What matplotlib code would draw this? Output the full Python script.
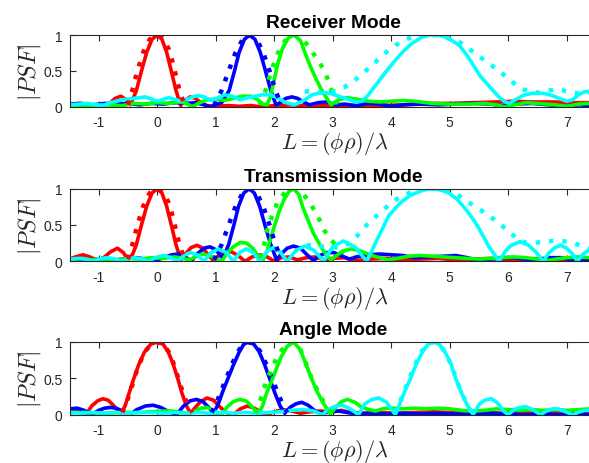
import matplotlib
matplotlib.use("Agg")
import matplotlib.pyplot as plt

plt.rcParams['mathtext.fontset'] = 'cm'
plt.rcParams['axes.unicode_minus'] = False
plt.rcParams['font.family'] = ['Liberation Sans', 'DejaVu Sans']

titles = ["Receiver Mode", "Transmission Mode", "Angle Mode"]
x_ticks = [-1, 0, 1, 2, 3, 4, 5, 6, 7]
y_ticks = [0, 0.5, 1]
y_tick_labels = ["0", "0.5", "1"]

# ---------------- Receiver Mode ----------------
recv_red_x = [-1.5, -1.35, -1.2, -1.05, -0.9, -0.8, -0.72, -0.62, -0.53, -0.46,
              -0.36, -0.27, -0.18, -0.09, 0, 0.08, 0.16, 0.24, 0.32, 0.4,
              0.47, 0.56, 0.65, 0.75, 0.85, 1.0, 1.2, 1.4, 1.6, 1.8, 2.0, 2.3, 2.6, 2.9,
              3.2, 3.5, 3.8, 4.2, 4.6, 5.0, 5.4, 5.8, 6.1, 6.4, 6.8, 7.1, 7.4]
recv_red_y = [0.03, 0.05, 0.03, 0.02, 0.03, 0.06, 0.12, 0.15, 0.1, 0.03,
              0.22, 0.5, 0.76, 0.94, 1.0, 0.94, 0.76, 0.5, 0.23, 0.02,
              0.09, 0.14, 0.12, 0.06, 0.02, 0.01, 0.02, 0.01, 0.02, 0.0, 0.02, 0.03, 0.01, 0.02,
              0.0, 0.02, 0.02, 0.03, 0.05, 0.05, 0.06, 0.07, 0.08, 0.07, 0.07, 0.06, 0.06]
recv_red_dot_x = [-0.5, -0.43, -0.34, -0.24, -0.13, 0, 0.12, 0.22, 0.3, 0.38, 0.46]
recv_red_dot_y = [0.03, 0.22, 0.5, 0.76, 0.94, 1.0, 0.94, 0.76, 0.5, 0.23, 0.04]

recv_blue_x = [-1.5, -1.3, -1.1, -0.9, -0.7, -0.5, -0.3, -0.1, 0.1, 0.3, 0.5, 0.65, 0.8, 0.92, 1.02,
               1.1, 1.23, 1.32, 1.4, 1.49, 1.58, 1.67, 1.76, 1.85, 1.94, 2.03,
               2.1, 2.2, 2.3, 2.4, 2.5, 2.6, 2.75, 2.9, 3.05, 3.2, 3.4, 3.6, 3.8, 4.0, 4.2,
               4.5, 4.8, 5.1, 5.4, 5.7, 5.9, 6.1, 6.4, 6.7, 7.0, 7.2, 7.4]
recv_blue_y = [0.04, 0.05, 0.03, 0.05, 0.04, 0.05, 0.03, 0.05, 0.04, 0.06, 0.05, 0.06, 0.03, 0.0, 0.04,
               0.06, 0.23, 0.5, 0.76, 0.94, 1.0, 0.94, 0.76, 0.5, 0.23, 0.03,
               0.06, 0.12, 0.14, 0.12, 0.07, 0.03, 0.06, 0.07, 0.03, 0.04, 0.02, 0.05, 0.04, 0.01, 0.03,
               0.04, 0.03, 0.04, 0.05, 0.04, 0.02, 0.04, 0.05, 0.03, 0.01, 0.03, 0.02]
recv_blue_dot_x = [0.97, 1.1, 1.22, 1.34, 1.46, 1.58, 1.7, 1.81, 1.92, 2.02, 2.12]
recv_blue_dot_y = [0.02, 0.23, 0.5, 0.76, 0.94, 1.0, 0.94, 0.76, 0.5, 0.23, 0.03]

recv_green_x = [-1.5, -1.2, -0.9, -0.6, -0.4, -0.2, 0.0, 0.2, 0.4, 0.52, 0.6, 0.7, 0.85, 1.0, 1.15,
                1.3, 1.45, 1.6, 1.72, 1.8, 1.88, 1.94, 2.0, 2.06, 2.14, 2.24, 2.34, 2.45, 2.55,
                2.64, 2.72, 2.8, 2.89, 2.97, 3.1, 3.25, 3.4, 3.6, 3.8, 4.0, 4.2, 4.4, 4.7, 5.0,
                5.3, 5.6, 5.8, 5.95, 6.1, 6.3, 6.5, 6.8, 7.0, 7.2, 7.4]
recv_green_y = [0.02, 0.02, 0.03, 0.02, 0.05, 0.04, 0.06, 0.05, 0.07, 0.04, 0.0, 0.05, 0.1, 0.11, 0.09,
                0.12, 0.15, 0.15, 0.1, 0.04, 0.03, 0.16, 0.38, 0.6, 0.81, 0.96, 1.0, 0.92, 0.7,
                0.52, 0.38, 0.25, 0.13, 0.03, 0.1, 0.13, 0.11, 0.08, 0.07, 0.08, 0.09, 0.08, 0.05, 0.04,
                0.04, 0.05, 0.03, 0.0, 0.03, 0.06, 0.05, 0.03, 0.01, 0.04, 0.05]
recv_green_dot_x = [1.75, 1.84, 1.92, 2.0, 2.1, 2.22, 2.35, 2.5, 2.62, 2.72, 2.8, 2.88, 2.95, 3.02, 3.08]
recv_green_dot_y = [0.03, 0.2, 0.42, 0.62, 0.82, 0.96, 1.0, 0.93, 0.8, 0.68, 0.58, 0.46, 0.3, 0.14, 0.04]

recv_cyan_x = [-1.5, -1.35, -1.2, -1.05, -0.93, -0.8, -0.6, -0.4, -0.2, 0.0, 0.2, 0.4, 0.55, 0.68,
               0.8, 0.92, 1.05, 1.15, 1.28, 1.42, 1.55, 1.68, 1.8, 1.92, 2.05, 2.2, 2.35, 2.5,
               2.65, 2.8, 2.95, 3.1, 3.25, 3.4, 3.5, 3.6, 3.75, 3.9, 4.04, 4.2, 4.35, 4.5, 4.65,
               4.78, 4.9, 5.05, 5.18, 5.3, 5.42, 5.52, 5.64, 5.75, 5.85, 5.95, 6.02, 6.12, 6.25,
               6.4, 6.6, 6.75, 6.9, 7.0, 7.1, 7.2, 7.3, 7.4]
recv_cyan_y = [0.03, 0.04, 0.05, 0.03, 0.02, 0.06, 0.1, 0.12, 0.14, 0.08, 0.13, 0.08, 0.12, 0.16,
               0.14, 0.09, 0.13, 0.17, 0.15, 0.1, 0.13, 0.15, 0.17, 0.17, 0.13, 0.06, 0.03, 0.09,
               0.17, 0.2, 0.19, 0.15, 0.11, 0.07, 0.08, 0.16, 0.32, 0.48, 0.62, 0.77, 0.88, 0.96, 1.0,
               1.0, 0.98, 0.92, 0.84, 0.71, 0.56, 0.43, 0.32, 0.22, 0.13, 0.07, 0.05, 0.1, 0.16,
               0.19, 0.19, 0.16, 0.11, 0.08, 0.1, 0.17, 0.21, 0.22]
recv_cyan_dot_x = [2.52, 2.7, 2.88, 3.05, 3.19, 3.32, 3.45, 3.56, 3.68, 3.8, 3.93, 4.15, 4.35, 4.55,
                   4.75, 4.95, 5.1, 5.25, 5.39, 5.5, 5.62, 5.84, 5.95, 6.04, 6.14, 6.24, 6.38, 6.52,
                   6.7, 6.86, 6.98, 7.09, 7.2, 7.32, 7.4]
recv_cyan_dot_y = [0.22, 0.2, 0.2, 0.22, 0.27, 0.34, 0.42, 0.5, 0.58, 0.68, 0.77, 0.9, 0.97, 1.0,
                   1.0, 0.96, 0.93, 0.86, 0.77, 0.7, 0.64, 0.5, 0.43, 0.37, 0.3, 0.25, 0.21, 0.2,
                   0.23, 0.25, 0.22, 0.2, 0.19, 0.19, 0.2]

# ---------------- Transmission Mode ----------------
trans_red_x = [-1.5, -1.4, -1.27, -1.15, -1.02, -0.9, -0.8, -0.68, -0.58, -0.5,
               -0.42, -0.36, -0.27, -0.18, -0.09, 0, 0.08, 0.16, 0.24, 0.32, 0.4,
               0.48, 0.58, 0.68, 0.78, 0.88, 0.96, 1.05, 1.15, 1.27, 1.38, 1.5, 1.62, 1.75, 1.88,
               2.0, 2.12, 2.25, 2.4, 2.55, 2.7, 2.85, 3.0, 3.2, 3.4, 3.6, 3.9, 4.2, 4.5, 4.8,
               5.1, 5.4, 5.7, 6.0, 6.3, 6.6, 6.9, 7.2, 7.4]
trans_red_y = [0.03, 0.06, 0.09, 0.06, 0.01, 0.06, 0.13, 0.18, 0.12, 0.02,
               0.1, 0.22, 0.5, 0.76, 0.94, 1.0, 0.94, 0.76, 0.5, 0.23, 0.02,
               0.1, 0.19, 0.22, 0.18, 0.08, 0.01, 0.08, 0.13, 0.13, 0.08, 0.0, 0.06, 0.09, 0.06,
               0.0, 0.05, 0.06, 0.02, 0.05, 0.06, 0.02, 0.04, 0.05, 0.01, 0.03, 0.04, 0.02, 0.03, 0.04,
               0.02, 0.03, 0.04, 0.02, 0.03, 0.04, 0.02, 0.03, 0.04]
trans_red_dot_x = [-0.5, -0.43, -0.34, -0.24, -0.13, 0, 0.12, 0.22, 0.3, 0.38, 0.46]
trans_red_dot_y = [0.03, 0.22, 0.5, 0.76, 0.94, 1.0, 0.94, 0.76, 0.5, 0.23, 0.04]

trans_blue_x = [-1.5, -1.3, -1.1, -0.9, -0.7, -0.5, -0.35, -0.2, -0.05, 0.1, 0.25, 0.37, 0.48, 0.58,
                0.68, 0.8, 0.9, 1.0, 1.08, 1.12, 1.22, 1.31, 1.39, 1.48, 1.57, 1.66, 1.75, 1.84,
                1.94, 2.04, 2.12, 2.22, 2.33, 2.45, 2.56, 2.67, 2.78, 2.9, 3.02, 3.14, 3.28, 3.4,
                3.6, 3.8, 4.0, 4.2, 4.4, 4.6, 4.9, 5.1, 5.3, 5.5, 5.7, 5.9, 6.1, 6.3, 6.5, 6.7,
                6.9, 7.1, 7.25, 7.4]
trans_blue_y = [0.02, 0.03, 0.02, 0.04, 0.02, 0.04, 0.05, 0.03, 0.0, 0.05, 0.09, 0.1, 0.06, 0.0,
                0.1, 0.18, 0.2, 0.16, 0.08, 0.04, 0.23, 0.5, 0.76, 0.94, 1.0, 0.94, 0.76, 0.5,
                0.23, 0.02, 0.1, 0.18, 0.21, 0.18, 0.09, 0.01, 0.08, 0.12, 0.12, 0.08, 0.03, 0.06,
                0.09, 0.1, 0.09, 0.08, 0.05, 0.06, 0.07, 0.08, 0.05, 0.01, 0.03, 0.05, 0.05, 0.03, 0.01, 0.05,
                0.05, 0.02, 0.0, 0.03]
trans_blue_dot_x = [0.97, 1.1, 1.22, 1.34, 1.46, 1.58, 1.7, 1.81, 1.92, 2.02, 2.12]
trans_blue_dot_y = [0.02, 0.23, 0.5, 0.76, 0.94, 1.0, 0.94, 0.76, 0.5, 0.23, 0.03]

trans_green_x = [-1.5, -1.3, -1.1, -0.9, -0.7, -0.5, -0.3, -0.1, 0.1, 0.3, 0.45, 0.55, 0.65, 0.77,
                 0.9, 1.0, 1.1, 1.2, 1.3, 1.42, 1.53, 1.63, 1.72, 1.8, 1.88, 1.95, 2.01, 2.08,
                 2.16, 2.25, 2.33, 2.42, 2.49, 2.57, 2.66, 2.75, 2.83, 2.9, 2.97, 3.05, 3.15,
                 3.3, 3.45, 3.6, 3.75, 3.95, 4.1, 4.3, 4.5, 4.7, 4.9, 5.1, 5.3, 5.5, 5.7, 5.9,
                 6.1, 6.3, 6.5, 6.62, 6.8, 7.0, 7.2, 7.4]
trans_green_y = [0.02, 0.04, 0.02, 0.03, 0.02, 0.04, 0.03, 0.05, 0.04, 0.06, 0.04, 0.02, 0.06, 0.1,
                 0.08, 0.03, 0.0, 0.12, 0.2, 0.26, 0.25, 0.18, 0.08, 0.0, 0.15, 0.35, 0.5, 0.68,
                 0.84, 0.96, 1.0, 0.92, 0.74, 0.58, 0.4, 0.27, 0.16, 0.08, 0.02, 0.07, 0.13,
                 0.17, 0.15, 0.1, 0.06, 0.02, 0.04, 0.07, 0.08, 0.07, 0.06, 0.05, 0.04, 0.03, 0.04, 0.05,
                 0.06, 0.05, 0.03, 0.0, 0.03, 0.05, 0.06, 0.05]
trans_green_dot_x = [1.75, 1.82, 1.87, 1.95, 2.05, 2.18, 2.33, 2.48, 2.6, 2.7, 2.78, 2.86, 2.96,
                     3.05, 3.15, 3.25, 3.35]
trans_green_dot_y = [0.04, 0.2, 0.4, 0.6, 0.8, 0.95, 1.0, 0.94, 0.82, 0.68, 0.56, 0.42, 0.31,
                     0.22, 0.14, 0.1, 0.08]

trans_cyan_x = [-1.5, -1.35, -1.22, -1.1, -0.98, -0.86, -0.74, -0.62, -0.5, -0.39, -0.27, -0.15,
                -0.02, 0.1, 0.22, 0.35, 0.46, 0.57, 0.69, 0.8, 0.92, 1.05, 1.18, 1.3, 1.41, 1.52,
                1.64, 1.75, 1.87, 1.98, 2.1, 2.22, 2.37, 2.52, 2.68, 2.84, 3.0, 3.18, 3.38, 3.58,
                3.66, 3.74, 3.85, 3.96, 4.08, 4.19, 4.33, 4.48, 4.6, 4.72, 4.85, 4.99, 5.13, 5.27,
                5.39, 5.5, 5.59, 5.67, 5.76, 5.84, 5.95, 6.05, 6.2, 6.35, 6.48, 6.6, 6.7, 6.8,
                6.9, 7.0, 7.1, 7.18, 7.28, 7.38, 7.4]
trans_cyan_y = [0.03, 0.04, 0.03, 0.0, 0.035, 0.05, 0.035, 0.0, 0.035, 0.05, 0.035, 0.0,
                0.055, 0.08, 0.055, 0.0, 0.085, 0.12, 0.085, 0.0, 0.12, 0.17, 0.12, 0.0, 0.12, 0.17,
                0.12, 0.0, 0.13, 0.19, 0.13, 0.0, 0.15, 0.21, 0.15, 0.0, 0.2, 0.28, 0.2, 0.0,
                0.13, 0.27, 0.45, 0.63, 0.74, 0.83, 0.91, 0.96, 0.99, 1.0, 0.98, 0.94, 0.85, 0.72,
                0.59, 0.45, 0.32, 0.2, 0.1, 0.0, 0.14, 0.22, 0.27, 0.22, 0.12, 0.0, 0.12, 0.19,
                0.22, 0.18, 0.1, 0.0, 0.1, 0.16, 0.17]
trans_cyan_dot_x = [2.55, 2.7, 2.85, 3.0, 3.12, 3.22, 3.32, 3.43, 3.58, 3.78, 3.95, 4.1, 4.24, 4.4,
                    4.55, 4.75, 4.9, 5.04, 5.22, 5.4, 5.52, 5.63, 5.75, 5.86, 6.0, 6.15, 6.28,
                    6.38, 6.5, 6.62, 6.75, 6.9, 7.02, 7.13, 7.25, 7.33, 7.4]
trans_cyan_dot_y = [0.22, 0.22, 0.2, 0.19, 0.19, 0.22, 0.27, 0.36, 0.5, 0.65, 0.77, 0.86, 0.92, 0.97,
                    1.0, 1.0, 0.99, 0.96, 0.87, 0.77, 0.71, 0.65, 0.58, 0.51, 0.42, 0.31, 0.26,
                    0.25, 0.26, 0.27, 0.28, 0.28, 0.27, 0.25, 0.21, 0.18, 0.17]

# ---------------- Angle Mode ----------------
angle_red_x = [-1.5, -1.42, -1.32, -1.22, -1.12, -1.02, -0.93, -0.84, -0.75, -0.66,
               -0.62, -0.55, -0.48, -0.4, -0.32, -0.22, -0.11, 0, 0.1, 0.19, 0.27, 0.35, 0.42,
               0.5, 0.57, 0.64, 0.74, 0.85, 0.96, 1.08, 1.2, 1.3, 1.42, 1.54, 1.66, 1.78, 1.88,
               2.0, 2.15, 2.3, 2.45, 2.6, 2.8, 3.0, 3.15, 3.3, 3.5, 3.8, 4.1, 4.4, 4.7, 5.0, 5.3,
               5.6, 5.9, 6.2, 6.5, 6.8, 7.1, 7.4]
angle_red_y = [0.06, 0.08, 0.05, 0.0, 0.12, 0.19, 0.22, 0.2, 0.13, 0.04,
               0.02, 0.12, 0.3, 0.5, 0.68, 0.86, 0.97, 1.0, 0.97, 0.86, 0.7, 0.5, 0.3,
               0.12, 0.02, 0.09, 0.18, 0.23, 0.2, 0.1, 0.02, 0.0, 0.08, 0.12, 0.09, 0.03, 0.0,
               0.04, 0.07, 0.05, 0.02, 0.04, 0.05, 0.04, 0.06, 0.03, 0.02, 0.03, 0.02, 0.03, 0.04, 0.03, 0.02,
               0.03, 0.02, 0.03, 0.02, 0.03, 0.02, 0.03]
angle_red_dot_x = [-0.6, -0.53, -0.46, -0.39, -0.31, -0.21, -0.1, 0, 0.1, 0.2, 0.28, 0.36, 0.44, 0.52, 0.6]
angle_red_dot_y = [0.03, 0.15, 0.32, 0.51, 0.69, 0.87, 0.97, 1.0, 0.97, 0.86, 0.7, 0.5, 0.3, 0.13, 0.03]

angle_blue_x = [-1.5, -1.37, -1.25, -1.12, -1.0, -0.9, -0.8, -0.7, -0.6, -0.47, -0.35, -0.2, -0.07,
                0.06, 0.2, 0.33, 0.45, 0.56, 0.67, 0.78, 0.88, 0.96, 1.04, 1.12, 1.21, 1.3, 1.4,
                1.48, 1.56, 1.65, 1.74, 1.83, 1.92, 2.01, 2.1, 2.18, 2.27, 2.37, 2.47, 2.58, 2.7,
                2.82, 2.95, 3.1, 3.25, 3.4, 3.6, 3.9, 4.2, 4.5, 4.8, 5.1, 5.4, 5.7, 6.0, 6.3, 6.6,
                6.9, 7.2, 7.4]
angle_blue_y = [0.08, 0.09, 0.06, 0.0, 0.06, 0.09, 0.1, 0.09, 0.05, 0.0, 0.07, 0.12, 0.13,
                0.1, 0.04, 0.0, 0.12, 0.19, 0.21, 0.18, 0.1, 0.02, 0.14, 0.32, 0.5, 0.68, 0.86,
                0.97, 1.0, 0.97, 0.87, 0.7, 0.5, 0.3, 0.12, 0.02, 0.1, 0.15, 0.17, 0.13, 0.05,
                0.02, 0.04, 0.05, 0.03, 0.01, 0.02, 0.01, 0.02, 0.01, 0.02, 0.01, 0.0, 0.02, 0.01, 0.0, 0.01,
                0.0, 0.01, 0.0]
angle_blue_dot_x = [0.93, 1.01, 1.1, 1.19, 1.28, 1.38, 1.47, 1.56, 1.66, 1.76, 1.86, 1.96, 2.05, 2.14, 2.22]
angle_blue_dot_y = [0.03, 0.16, 0.34, 0.52, 0.7, 0.87, 0.97, 1.0, 0.97, 0.87, 0.7, 0.5, 0.32, 0.15, 0.03]

angle_green_x = [-1.5, -1.2, -0.9, -0.6, -0.3, -0.1, 0.1, 0.25, 0.4, 0.55, 0.65, 0.75, 0.84, 0.94,
                 1.04, 1.1, 1.2, 1.3, 1.41, 1.52, 1.62, 1.7, 1.73, 1.8, 1.87, 1.95, 2.03, 2.12,
                 2.22, 2.33, 2.44, 2.54, 2.64, 2.73, 2.83, 2.9, 2.96, 3.05, 3.15, 3.25, 3.38, 3.5,
                 3.62, 3.73, 3.85, 4.0, 4.2, 4.4, 4.6, 4.8, 5.0, 5.2, 5.4, 5.6, 5.8, 6.0, 6.2, 6.4,
                 6.6, 6.8, 7.0, 7.2, 7.4]
angle_green_y = [0.03, 0.03, 0.02, 0.03, 0.03, 0.04, 0.05, 0.05, 0.03, 0.02, 0.05, 0.09, 0.1, 0.07,
                 0.02, 0.0, 0.11, 0.18, 0.21, 0.19, 0.11, 0.03, 0.02, 0.12, 0.3, 0.45, 0.62, 0.8,
                 0.94, 1.0, 0.9, 0.7, 0.49, 0.32, 0.17, 0.08, 0.01, 0.1, 0.18, 0.21, 0.17, 0.1,
                 0.07, 0.05, 0.08, 0.09, 0.08, 0.09, 0.08, 0.09, 0.08, 0.06, 0.05, 0.06, 0.08, 0.07, 0.06, 0.07,
                 0.06, 0.07, 0.06, 0.07, 0.08]
angle_green_dot_x = [1.68, 1.74, 1.8, 1.87, 1.95, 2.04, 2.14, 2.24, 2.33, 2.44, 2.54, 2.64, 2.74, 2.84, 2.92, 2.98]
angle_green_dot_y = [0.02, 0.14, 0.3, 0.47, 0.62, 0.78, 0.9, 0.98, 1.0, 0.91, 0.71, 0.5, 0.33, 0.18, 0.08, 0.02]

angle_cyan_x = [-1.5, -1.3, -1.1, -0.9, -0.7, -0.5, -0.3, -0.1, 0.1, 0.3, 0.5, 0.7, 0.9, 1.1, 1.3,
                1.5, 1.7, 1.9, 2.1, 2.3, 2.5, 2.68, 2.82, 2.94, 3.06, 3.16, 3.28, 3.44, 3.55, 3.67,
                3.79, 3.92, 4.07, 4.14, 4.22, 4.33, 4.43, 4.53, 4.63, 4.72, 4.82, 4.92, 5.02, 5.1,
                5.2, 5.3, 5.4, 5.5, 5.6, 5.71, 5.82, 5.92, 6.0, 6.1, 6.2, 6.3, 6.42, 6.55, 6.65,
                6.75, 6.85, 6.95, 7.1, 7.22, 7.32, 7.4]
angle_cyan_y = [0.03, 0.02, 0.03, 0.02, 0.03, 0.02, 0.03, 0.03, 0.02, 0.03, 0.02, 0.03, 0.02, 0.03, 0.02,
                0.03, 0.02, 0.03, 0.04, 0.06, 0.07, 0.05, 0.0, 0.08, 0.12, 0.13, 0.09, 0.0, 0.15, 0.21,
                0.23, 0.17, 0.0, 0.14, 0.3, 0.5, 0.7, 0.86, 0.97, 1.0, 0.97, 0.86, 0.7, 0.5,
                0.3, 0.13, 0.0, 0.14, 0.2, 0.22, 0.16, 0.05, 0.0, 0.07, 0.1, 0.11, 0.07, 0.0, 0.05,
                0.08, 0.08, 0.05, 0.0, 0.04, 0.06, 0.06]
angle_cyan_dot_x = [4.06, 4.14, 4.22, 4.32, 4.42, 4.52, 4.62, 4.72, 4.82, 4.92, 5.01, 5.1, 5.19, 5.29, 5.38]
angle_cyan_dot_y = [0.02, 0.16, 0.32, 0.52, 0.71, 0.87, 0.97, 1.0, 0.97, 0.86, 0.71, 0.52, 0.32, 0.15, 0.02]

colors = ['#FF0000', '#0000FF', '#00FF00', '#00FFFF']

panels = [
    ([(recv_red_x, recv_red_y), (recv_blue_x, recv_blue_y), (recv_green_x, recv_green_y), (recv_cyan_x, recv_cyan_y)],
     [(recv_red_dot_x, recv_red_dot_y), (recv_blue_dot_x, recv_blue_dot_y), (recv_green_dot_x, recv_green_dot_y), (recv_cyan_dot_x, recv_cyan_dot_y)]),
    ([(trans_red_x, trans_red_y), (trans_blue_x, trans_blue_y), (trans_green_x, trans_green_y), (trans_cyan_x, trans_cyan_y)],
     [(trans_red_dot_x, trans_red_dot_y), (trans_blue_dot_x, trans_blue_dot_y), (trans_green_dot_x, trans_green_dot_y), (trans_cyan_dot_x, trans_cyan_dot_y)]),
    ([(angle_red_x, angle_red_y), (angle_blue_x, angle_blue_y), (angle_green_x, angle_green_y), (angle_cyan_x, angle_cyan_y)],
     [(angle_red_dot_x, angle_red_dot_y), (angle_blue_dot_x, angle_blue_dot_y), (angle_green_dot_x, angle_green_dot_y), (angle_cyan_dot_x, angle_cyan_dot_y)]),
]

W, H = 589, 464
fig = plt.figure(figsize=(W / 100, H / 100), dpi=100)
axes_px = [(36, 108), (189.7, 262.3), (343, 415.7)]
left_px = 69.5
axcol = '#262626'

for (top, bot), title, (solids, dots) in zip(axes_px, titles, panels):
    ax = fig.add_axes([left_px / W, 1 - bot / H, (W - left_px) / W, (bot - top) / H])
    for (xs, ys), c in zip(solids, colors):
        ax.plot(xs, ys, color=c, lw=2.6, solid_joinstyle='round', solid_capstyle='butt')
    for (xs, ys), c in zip(dots, colors):
        ax.plot(xs, ys, color=c, lw=3.2, linestyle=(0, (1, 2.0)), dash_capstyle='butt')
    ax.set_xlim(-1.5, 7.38)
    ax.set_ylim(0, 1)
    ax.set_xticks(x_ticks)
    ax.set_xticklabels([str(t) for t in x_ticks])
    ax.set_yticks(y_ticks)
    ax.set_yticklabels(y_tick_labels)
    ax.tick_params(direction='in', length=4, width=0.8, colors=axcol, labelsize=10,
                   top=True, right=False, pad=5)
    ax.tick_params(axis='x', pad=6)
    for s in ['left', 'bottom', 'top']:
        ax.spines[s].set_color(axcol)
        ax.spines[s].set_linewidth(0.8)
    ax.spines['right'].set_visible(False)
    ax.set_title(title, fontsize=13.8, fontweight='bold', color='black', pad=5.8, x=0.508)
    ax.set_ylabel(r'$|PSF|$', fontsize=17, color=axcol)
    ax.yaxis.set_label_coords(-0.051, 0.5)
    ax.set_xlabel(r'$L = (\phi\rho)/\lambda$', fontsize=16, color=axcol)
    ax.xaxis.set_label_coords(0.511, -0.31)

fig.savefig('out.png', dpi=100)
